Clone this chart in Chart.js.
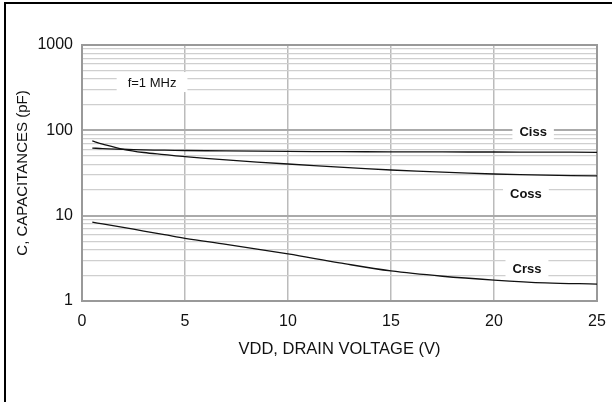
<!DOCTYPE html>
<html>
<head>
<meta charset="utf-8">
<script src="https://cdn.jsdelivr.net/npm/chart.js@4/dist/chart.umd.min.js"></script>
<style>
  html, body { margin: 0; padding: 0; background: #fff; }
  #wrap { position: relative; width: 612px; height: 402px; }
  #frame { position: absolute; left: 4px; top: 2px; right: 0; bottom: 0;
           border-top: 2px solid #000; border-left: 2px solid #000; pointer-events: none; }
</style>
</head>
<body>
<div id="wrap">
  <canvas id="c" width="612" height="402"></canvas>
  <div id="frame"></div>
</div>
<script>
// ---- data ----
const voltages = [0.5, 1, 2, 3, 4, 5, 7, 10, 12.5, 15, 17.5, 20, 22.5, 25];
const ciss = [62, 61, 60, 59, 58.5, 58, 57.3, 56.7, 56.2, 56, 55.8, 55.7, 55.5, 55.3];
const coss = [75, 69, 60, 55, 52, 49.1, 45, 40.3, 37, 34.3, 32.4, 30.8, 29.8, 29.2];
const crss = [8.4, 8.0, 7.3, 6.6, 6.0, 5.43, 4.6, 3.56, 2.8, 2.25, 1.95, 1.76, 1.63, 1.58];
const yGridValues = [1,2,3,4,5,6,7,8,9,10,20,30,40,50,60,70,80,90,100,200,300,400,500,600,700,800,900,1000];
const yTickLabels = [1, 10, 100, 1000];
const xTickLabels = [0, 5, 10, 15, 20, 25];
// annotation labels: text, x (V), y (pF), bold
const noteTexts = ['f=1 MHz', 'Ciss', 'Coss', 'Crss'];
const noteX = [3.4, 21.9, 21.55, 21.6];
const noteY = [368, 98, 18.4, 2.43];
const noteBold = [false, true, true, true];

const FONT = '"Liberation Sans", Arial, Helvetica, sans-serif';

const toPts = arr => arr.map((v, i) => ({x: voltages[i], y: v}));

const notesPlugin = {
  id: 'notes',
  beforeDatasetsDraw(chart) {
    const {ctx, scales: {x, y}, chartArea} = chart;
    ctx.save();
    // plot border
    ctx.strokeStyle = '#999';
    ctx.lineWidth = 2;
    ctx.strokeRect(chartArea.left, chartArea.top, chartArea.right - chartArea.left, chartArea.bottom - chartArea.top);
    ctx.textAlign = 'center';
    ctx.textBaseline = 'middle';
    noteTexts.forEach((t, i) => {
      ctx.font = (noteBold[i] ? 'bold ' : '') + '13px ' + FONT;
      const px = x.getPixelForValue(noteX[i]);
      const py = y.getPixelForValue(noteY[i]);
      const w = ctx.measureText(t).width;
      const padX = noteBold[i] ? 7 : 11;
      ctx.fillStyle = '#fff';
      ctx.fillRect(px - w / 2 - padX, py - 10, w + 2 * padX, 20);
      ctx.fillStyle = '#111';
      ctx.fillText(t, px, py + 1);
    });
    ctx.restore();
  }
};

const lineStyle = {
  borderColor: '#111',
  borderWidth: 1.3,
  pointRadius: 0,
  tension: 0.35,
  fill: false
};

new Chart(document.getElementById('c'), {
  type: 'line',
  data: {
    datasets: [
      Object.assign({label: 'Ciss', data: toPts(ciss)}, lineStyle),
      Object.assign({label: 'Coss', data: toPts(coss)}, lineStyle),
      Object.assign({label: 'Crss', data: toPts(crss)}, lineStyle)
    ]
  },
  options: {
    responsive: false,
    animation: false,
    devicePixelRatio: 1,
    layout: { padding: { left: 0, right: 15, top: 45, bottom: 0 } },
    plugins: { legend: { display: false }, tooltip: { enabled: false } },
    scales: {
      x: {
        type: 'linear',
        min: 0, max: 25,
        afterBuildTicks: s => { s.ticks = xTickLabels.map(v => ({value: v})); },
        afterFit: s => { s.height = 101; s.paddingLeft = 0; s.paddingRight = 0; },
        grid: { color: '#bbb', lineWidth: 1.5, drawTicks: false },
        border: { display: false },
        ticks: { padding: 11, color: '#111', font: { family: FONT, size: 16 } },
        title: { display: true, text: 'VDD, DRAIN VOLTAGE (V)', color: '#111',
                 font: { family: FONT, size: 16.5 }, padding: { top: 0, bottom: 43 } }
      },
      y: {
        type: 'logarithmic',
        min: 1, max: 1000,
        afterBuildTicks: s => { s.ticks = yGridValues.map(v => ({value: v})); },
        afterFit: s => { s.width = 82; s.paddingTop = 0; s.paddingBottom = 0; },
        grid: {
          drawTicks: false,
          color: c => yTickLabels.includes(c.tick && c.tick.value) ? '#aaa' : '#cfcfcf',
          lineWidth: c => yTickLabels.includes(c.tick && c.tick.value) ? 2 : 1.3
        },
        border: { display: false },
        ticks: {
          autoSkip: false,
          padding: 9,
          color: '#111',
          font: { family: FONT, size: 16 },
          callback: v => yTickLabels.includes(v) ? String(v) : ''
        },
        title: { display: true, text: 'C, CAPACITANCES (pF)', color: '#111',
                 font: { family: FONT, size: 15 }, padding: { top: 14, bottom: 0 } }
      }
    }
  },
  plugins: [notesPlugin]
});
</script>
</body>
</html>
